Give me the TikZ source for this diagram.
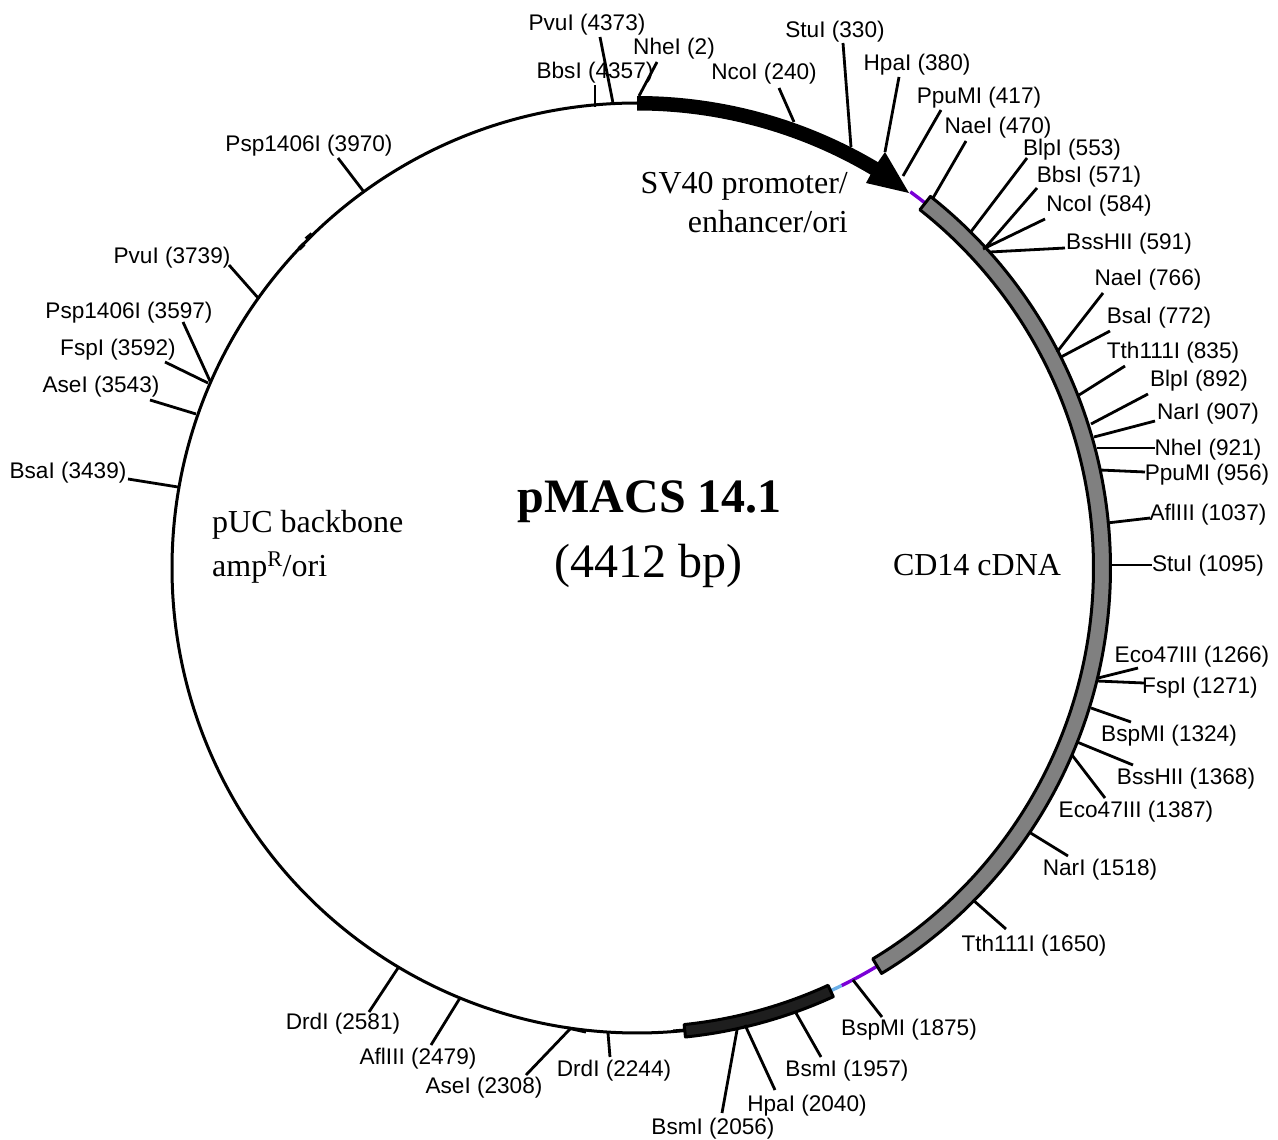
\documentclass[tikz,border=0pt]{standalone}
\usepackage{fontspec}
\setmainfont{Liberation Serif}
\newfontfamily\labelfont{Liberation Sans}
\definecolor{cdnagray}{HTML}{808080}
\definecolor{polyblack}{HTML}{1E1E1E}
\definecolor{linkpurple}{HTML}{7A00D6}
\definecolor{linkblue}{HTML}{6CB0E8}
\tikzset{
  sitelabel/.style={inner sep=0pt,yshift=-2pt,font=\labelfont\fontsize{22.6}{26}\selectfont,text=black},
  siteline/.style={draw=black,line width=2.8pt,line cap=butt},
  backbone/.style={draw=black,line width=3pt},
  serifbig/.style={inner sep=0pt,font=\fontsize{48}{54}\selectfont},
  serifmid/.style={inner sep=0pt,font=\fontsize{32}{38}\selectfont,text=black},
  linker/.style={line width=3.4pt},
}
\newcommand{\site}[5]{%
  \coordinate (#1s) at (#2);
  \coordinate (#1e) at (#3);
  \draw[siteline] (#1s) -- (#1e);
  \node[sitelabel] (#1) at (#4) {#5};
}
\newcommand{\bandseg}[6]{% start, end, inner r, outer r, fill, outline
  \path[fill=#5,draw=#6,line width=3pt,line join=round]
    ([shift={(ctr)}]#1:#4pt) arc[start angle=#1,end angle=#2,radius=#4pt]
    -- ([shift={(ctr)}]#2:#3pt) arc[start angle=#2,end angle=#1,radius=#3pt] -- cycle;
}
\begin{document}
\begin{tikzpicture}[x=1pt,y=-1pt]
\useasboundingbox (0,0) rectangle (1278,1140);
\coordinate (ctr) at (637,568);

% backbone
\draw[backbone] ([shift={(ctr)}]90:465pt) arc[start angle=90,end angle=275.9,radius=465pt];
\coordinate (k1a) at (299,249); \coordinate (k1b) at (304,244);
\coordinate (k2a) at (306,239); \coordinate (k2b) at (312,234);
\draw[backbone,line width=4pt] (k1a) -- (k1b);
\draw[backbone,line width=4pt] (k2a) -- (k2b);
\coordinate (k3a) at (568,1028); \coordinate (k3b) at (586,1032);
\draw[backbone] (k3a) -- (k3b);
\coordinate (k4a) at (673,1031); \coordinate (k4b) at (685,1030);
\draw[backbone] (k4a) -- (k4b);

% linkers
\draw[linkpurple,linker] ([shift={(ctr)}]54:465pt) arc[start angle=54,end angle=51.7,radius=465pt];
\draw[linkpurple,linker] ([shift={(ctr)}]-58.9:465pt) arc[start angle=-58.9,end angle=-63.9,radius=465pt];
\draw[linkblue,linker] ([shift={(ctr)}]-63.9:465pt) arc[start angle=-63.9,end angle=-65.4,radius=465pt];

% SV40 arrow
\coordinate (barbA) at (885,152);
\coordinate (tipA) at (909,193);
\coordinate (barbB) at (866,183);
\fill[black] ([shift={(ctr)}]90:472pt) arc[start angle=90,end angle=59.3,radius=472pt]
  -- (barbA) -- (tipA) -- (barbB)
  -- ([shift={(ctr)}]59.3:457.5pt) arc[start angle=59.3,end angle=90,radius=457.5pt] -- cycle;

% CD14 band and polyA band
\bandseg{51.7}{-58.9}{456.5}{473.5}{cdnagray}{black}
\bandseg{-65.4}{-84.1}{459}{471.5}{polyblack}{black}

% sites
\site{a}{613,103}{600,37}{587,23}{PvuI (4373)}
\site{b}{595,107}{595,85}{595,71}{BbsI (4357)}
\site{c}{639,96}{657,62}{674,47}{NheI (2)}
\site{d}{794,122}{779,88}{764,72}{NcoI (240)}
\site{e}{851,147}{843,43}{835,30}{StuI (330)}
\site{f}{885,152}{899,77}{917,63}{HpaI (380)}
\site{g}{903,176}{941,110}{979,96}{PpuMI (417)}
\site{h}{933,198}{966,141}{998,126}{NaeI (470)}
\site{i}{970,233}{1027,158}{1072,148}{BlpI (553)}
\site{j}{985,248}{1037,188}{1089,175}{BbsI (571)}
\site{k}{983,249}{1045,219}{1099,204}{NcoI (584)}
\site{l}{990,252}{1065,248}{1129,242}{BssHII (591)}
\site{m}{1057,352}{1103,293}{1148,278}{NaeI (766)}
\site{n}{1061,357}{1110,331}{1159,316}{BsaI (772)}
\site{o}{1079,395}{1125,366}{1173,351}{Tth111I (835)}
\site{p}{1091,424}{1148,394}{1199,379}{BlpI (892)}
\site{q}{1094,437}{1155,421}{1208,412}{NarI (907)}
\site{r}{1097,448}{1155,448}{1208,448}{NheI (921)}
\site{s}{1100,470}{1145,472}{1207,473}{PpuMI (956)}
\site{t}{1107,523}{1150,518}{1208,513}{AflIII (1037)}
\site{u}{1111,565}{1152,565}{1208,564}{StuI (1095)}
\site{v}{1098,678}{1138,668}{1192,655}{Eco47III (1266)}
\site{w}{1097,681}{1144,683}{1200,686}{FspI (1271)}
\site{x}{1091,708}{1131,722}{1169,734}{BspMI (1324)}
\site{y}{1077,742}{1133,765}{1186,777}{BssHII (1368)}
\site{z}{1072,755}{1105,798}{1136,810}{Eco47III (1387)}
\site{aa}{1029,832}{1068,856}{1100,868}{NarI (1518)}
\site{ab}{973,900}{1006,929}{1034,944}{Tth111I (1650)}
\site{ac}{853,980}{882,1017}{909,1028}{BspMI (1875)}
\site{ad}{796,1013}{821,1057}{847,1069}{BsmI (1957)}
\site{ae}{745,1025}{775,1090}{807,1104}{HpaI (2040)}
\site{af}{737,1030}{722,1113}{713,1127}{BsmI (2056)}
\site{ag}{608,1033}{610,1057}{614,1069}{DrdI (2244)}
\site{ah}{570,1029}{526,1075}{484,1086}{AseI (2308)}
\site{ai}{460,998}{431,1045}{418,1057}{AflIII (2479)}
\site{aj}{398,968}{369,1012}{343,1022}{DrdI (2581)}
\site{ak}{178,487}{128,479}{68,471}{BsaI (3439)}
\site{al}{196,414}{150,400}{101,385}{AseI (3543)}
\site{am}{208,383}{165,362}{118,348}{FspI (3592)}
\site{an}{210,381}{183,322}{129,311}{Psp1406I (3597)}
\site{ao}{259,299}{229,265}{172,256}{PvuI (3739)}
\site{ap}{364,192}{338,158}{309,144}{Psp1406I (3970)}

% feature labels
\node[serifbig,font=\bfseries\fontsize{48}{54}\selectfont] (title) at (650,502) {pMACS 14.1};
\node[serifbig] (size) at (648,566) {(4412 bp)};
\node[serifmid,anchor=base east] (svA) at (848,193) {SV40 promoter/};
\node[serifmid,anchor=base east] (svB) at (848,232) {enhancer/ori};
\node[serifmid,anchor=base west] (pucA) at (212,532) {pUC backbone};
\node[serifmid,anchor=base west] (pucB) at (212,576) {amp\textsuperscript{R}/ori};
\node[serifmid] (cd) at (977,565) {CD14 cDNA};
\end{tikzpicture}
\end{document}
